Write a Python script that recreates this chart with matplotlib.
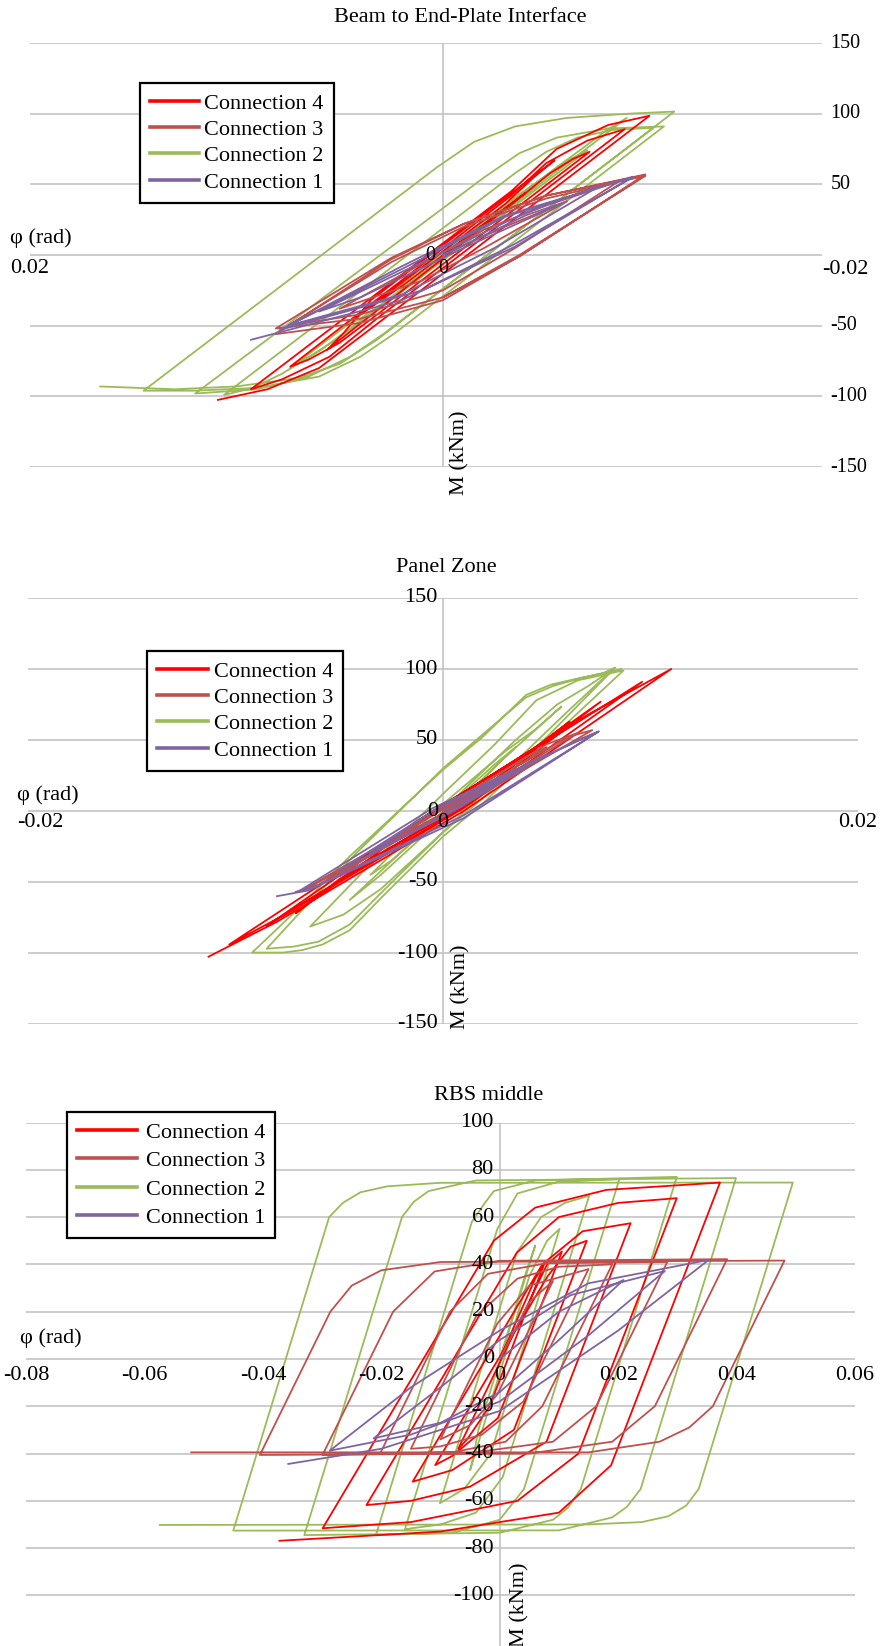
import matplotlib
matplotlib.use("Agg")
import matplotlib.pyplot as plt
from matplotlib.lines import Line2D

plt.rcParams["font.family"] = ["Liberation Serif", "DejaVu Serif"]

# ---- Beam to End-Plate Interface ----
beam_c4_phi = [0, -0.0030, -0.0040, 0.0018, 0.0033, 0.0042, -0.0030, -0.0044, -0.0054,
               0.0035, 0.0048, 0.0056, -0.0035, -0.0052, -0.0063, -0.0071,
               0.0030, 0.0050, 0.0065, 0.0074, -0.0033, -0.0050, -0.0070, -0.0088,
               0.0032, 0.0055, 0.0078, 0.0093, -0.0033, -0.0055, -0.0080, -0.0100,
               0.0033, 0.0060, 0.0085, 0.0109]
beam_c4_m = [0, 33, 44, -20, -35, -44, 36, 55, 67,
             -32, -55, -67, 38, 58, 68, 73,
             -40, -62, -74, -79, 42, 65, 81, 89,
             -45, -72, -88, -95, 45, 75, 92, 98.5,
             -50, -80, -95, -102.5]

beam_c3_phi = [0, -0.0030, -0.0060, -0.0020, 0.0010, 0.0050,
               0.0015, -0.0020, -0.0050, -0.0085, -0.0035, 0.0000, 0.0040, 0.0075,
               0.0025, -0.0010, -0.0050, -0.0098, -0.0037, 0.0000, 0.0040, 0.0081,
               0.0025, -0.0010, -0.0050, -0.0098, -0.0038, 0.0000, 0.0040, 0.0081,
               0.0025, -0.0010, -0.0050, -0.0098, -0.0037, 0.0000]
beam_c3_m = [0, 20, 38, 5, -18, -38,
             -10, 18, 35, 52, 5, -25, -42, -50,
             -5, 20, 40, 56, 0, -30, -45, -52,
             -2, 22, 42, 57, 0, -32, -48, -56,
             -3, 22, 42, 56.5, -1, -30]

beam_c2_phi = [0, -0.0030, -0.0045, 0.0025, 0.0040, 0.0047,
               -0.0034, -0.0052, -0.0062, -0.0070, 0.0037, 0.0055, 0.0066, 0.0074,
               -0.0055, -0.0068, -0.0079, -0.0089, 0.0045, 0.0060, 0.0078, 0.0092, 0.0106,
               -0.0035, -0.0050, -0.0065, -0.0082, -0.0102, 0.0028, 0.0045, 0.0065, 0.0090, 0.0120,
               -0.0020, -0.0037, -0.0055, -0.0080, -0.0107, 0.0023, 0.0040, 0.0060, 0.0090, 0.0120, 0.0145,
               0.0003, -0.0015, -0.0035, -0.0060, -0.0090, -0.0112,
               0.0032, 0.0050, 0.0070, 0.0100, 0.0130, 0.0166]
beam_c2_m = [0, 33, 48, -30, -45, -50,
             40, 58, 68, 74, -45, -63, -73, -80,
             62, 76, 88, 97, -52, -68, -84, -94, -99,
             58, 73, 83, 88.5, 90, -55, -72, -86, -95, -98,
             55, 72, 83, 89.5, 91, -55, -72, -86, -94, -96, -96,
             62, 80, 91, 97, 100, 101.5,
             -60, -77, -87, -93, -95, -93]

beam_c1_phi = [0, -0.0040, -0.0060, -0.0010, 0.0040, 0.0060,
               0.0010, -0.0040, -0.0076, -0.0025, 0.0020, 0.0075,
               0.0020, -0.0030, -0.0092, -0.0035, 0.0010, 0.0079,
               0.0020, -0.0030, -0.0092, -0.0035, 0.0020, 0.0093]
beam_c1_m = [0, 28, 38, 5, -30, -40,
             -5, 30, 49, 5, -28, -50,
             -8, 28, 55, 8, -25, -53,
             -10, 27, 55.4, 6, -32, -60]

# ---- Panel Zone ----
panel_c4_phi = [0, 0.0030, 0.0045, 0.0005, -0.0040, -0.0050,
                -0.0005, 0.0040, 0.0061, 0.0010, -0.0050, -0.0071,
                -0.0010, 0.0050, 0.0076, 0.0010, -0.0060, -0.0085,
                -0.0010, 0.0060, 0.0096, 0.0010, -0.0075, -0.0103,
                -0.0010, 0.0070, 0.0110, 0.0010, -0.0080, -0.0113]
panel_c4_m = [0, 30, 44, 0, -38, -46,
              0, 40, 63, 5, -48, -72,
              -6, 50, 77, 3, -58, -81,
              -5, 58, 91, 2, -72, -94,
              -5, 68, 100, 0, -78, -102.6]

panel_c3_phi = [0, 0.0030, 0.0035, 0.0005, -0.0030, -0.0035,
                -0.0005, 0.0040, 0.0050, 0.0005, -0.0045, -0.0050,
                -0.0005, 0.0050, 0.0065, 0.0005, -0.0060, -0.0068,
                -0.0005, 0.0060, 0.0072, 0.0005, -0.0065, -0.0071]
panel_c3_m = [0, 25, 30, 2, -25, -30,
              -2, 38, 45, 3, -40, -45,
              -3, 47, 55, 2, -52, -56,
              -3, 52, 57, 0, -54, -57]

panel_c2_phi = [0, 0.0025, 0.0035, 0.0005, -0.0025, -0.0035,
                0.0000, 0.0030, 0.0045, 0.0057, 0.0030, 0.0000, -0.0030, -0.0045,
                -0.0015, 0.0010, 0.0035, 0.0055, 0.0070, 0.0082,
                0.0060, 0.0030, 0.0000, -0.0030, -0.0048, -0.0064,
                -0.0040, 0.0000, 0.0025, 0.0045, 0.0065, 0.0087,
                0.0051, 0.0019, 0.0000, -0.0029, -0.0045, -0.0058, -0.0068, -0.0077, -0.0092,
                -0.0072, -0.0045, 0.0000, 0.0019, 0.0040, 0.0052, 0.0067, 0.0077, 0.0083,
                0.0052, 0.0020, 0.0000, -0.0028, -0.0045, -0.0060, -0.0072, -0.0085,
                -0.0068, -0.0042, 0.0000, 0.0020, 0.0040, 0.0053, 0.0065, 0.0086]
panel_c2_m = [0, 33, 45, 3, -35, -45,
              5, 42, 58, 73.5, 38, -5, -45, -62.7,
              -22, 15, 50, 75, 88, 100,
              70, 28, -15, -55, -73, -81.4,
              -45, 12, 47, 78, 92, 99,
              50, 5, -18, -60, -84, -94, -98, -99.7, -99.7,
              -72, -32, 29, 52, 81.7, 89, 94, 97, 101,
              55, 10, -15, -55, -80, -92, -95.5, -97,
              -70, -30, 30, 55, 80, 88, 93, 100]

panel_c1_phi = [0, 0.0035, 0.0005, -0.0035, -0.0005, 0.0050, 0.0005, -0.0050,
                -0.0005, 0.0065, 0.0075, 0.0010, -0.0060, -0.0070, -0.0005,
                0.0075, 0.0010, -0.0065, -0.0080]
panel_c1_m = [0, 28, 1, -30, 0, 40, 0, -42,
              0, 50, 56, -3, -52, -57, 2,
              56, -5, -56, -60]

# ---- RBS middle ----
rbs_c4_phi = [0, 0.0060, 0.0075, -0.0017, -0.0055, -0.0070,
              0.0080, 0.0105, -0.0003, -0.0080, -0.0109,
              0.0081, 0.0120, 0.0147, 0.0024, -0.0080, -0.0147,
              0.0072, 0.0140, 0.0221, 0.0079, -0.0050, -0.0150, -0.0225,
              0.0029, 0.0100, 0.0200, 0.0299, 0.0133, 0.0030, -0.0150, -0.0299,
              -0.0010, 0.0060, 0.0180, 0.0372, 0.0188, 0.0100, -0.0100, -0.0372]
rbs_c4_m = [0, 34, 40, -20, -34, -38,
            40, 45.4, -25, -41, -44.9,
            35, 47.5, 50, -30, -47, -51.9,
            40, 54, 57.4, -35, -54, -60, -61.8,
            45, 60, 66, 68, -40, -60, -69, -71.6,
            50, 64, 71.5, 74.6, -45, -65, -73, -76.9]

rbs_c3_phi = [0, 0.0050, 0.0090, -0.0004, -0.0050, -0.0100,
              -0.0004, 0.0050, 0.0150, 0.0040, -0.0030, -0.0100, -0.0150,
              -0.0040, 0.0030, 0.0100, 0.0190, 0.0072, 0.0010, -0.0080, -0.0202,
              -0.0084, -0.0020, 0.0080, 0.0283, 0.0163, 0.0090, -0.0050, -0.0299,
              -0.0180, -0.0110, 0.0000, 0.0384, 0.0262, 0.0190, 0.0050, -0.0405,
              -0.0286, -0.0250, -0.0200, -0.0100, 0.0481, 0.0360, 0.0320, 0.0270, 0.0150, -0.0521]
rbs_c3_m = [0, 24, 33, -15, -28, -34,
            15, 31, 38, -18, -32, -37, -38,
            18, 34, 39, 40, -20, -35, -39.5, -40,
            20, 36, 40.5, 41, -20, -35, -39.8, -40.5,
            20, 37, 41.5, 42.2, -20, -35, -40, -40.6,
            20, 31, 37.5, 41, 41.6, -20, -29, -35, -39.5, -39.5]

rbs_c2_phi = [0, 0.0045, 0.0060, -0.0036, -0.0045, -0.0050,
              0.0050, 0.0080, 0.0101, -0.0015, -0.0060, -0.0101,
              0.0029, 0.0070, 0.0110, 0.0151, 0.0005, -0.0040, -0.0100, -0.0160,
              -0.0004, 0.0030, 0.0100, 0.0202, 0.0041, 0.0000, -0.0080, -0.0209,
              -0.0047, -0.0025, -0.0010, 0.0060, 0.0299, 0.0137, 0.0115, 0.0090, 0.0000, -0.0330,
              -0.0165, -0.0145, -0.0120, -0.0040, 0.0399, 0.0238, 0.0215, 0.0190, 0.0100, -0.0450,
              -0.0288, -0.0265, -0.0235, -0.0190, -0.0100, 0.0495,
              0.0336, 0.0315, 0.0285, 0.0240, 0.0150, -0.0574]
rbs_c2_m = [0, 37, 48, -30, -42, -47,
            35, 50, 55, -40, -55, -61,
            45, 60, 66, 69, -50, -65, -70, -72,
            55, 70, 75, 76, -55, -68, -73.5, -74.5,
            58, 66, 71, 75.5, 77, -55, -63, -68, -73.5, -74.5,
            60, 66.5, 71, 75.5, 76.5, -55, -62.5, -67, -72.5, -72.6,
            60, 66, 70.5, 73, 74.5, 74.6,
            -55, -62, -66.5, -69, -70, -70.2]

rbs_c1_phi = [0, 0.0100, 0.0209, 0.0100, 0.0000, -0.0100, -0.0213,
              -0.0100, 0.0000, 0.0120, 0.0279, 0.0150, 0.0000, -0.0150, -0.0287,
              -0.0150, 0.0000, 0.0150, 0.0353, 0.0200, 0.0000, -0.0200, -0.0357]
rbs_c1_m = [0, 20, 33.4, 8, -14, -27, -33.6,
            -12, 8, 27, 37.2, 10, -18, -32, -38.8,
            -12, 12, 32, 41.9, 12, -22, -38, -44.4]

labels = ["Connection 4", "Connection 3", "Connection 2", "Connection 1"]
colors = ["#FF0000", "#C0504D", "#9BBB59", "#8064A2"]

grid_col = "#BFBFBF"
fs_big = 16      # titles, legend, x tick labels
fs_small = 14.5  # right-hand labels of the top chart

fig = plt.figure(figsize=(8.9, 16.46), dpi=100)
H = 1646.0
W = 890.0


def draw_panel(rect, xlim, ylim, grid_y, series, legend_xy, spacing, hlen, tpad):
    ax = fig.add_axes(rect)
    ax.set_xlim(*xlim)
    ax.set_ylim(*ylim)
    ax.set_axis_off()
    for g in grid_y:
        ax.axhline(g, color=grid_col, lw=1.1, zorder=0)
    ax.axvline(0, color=grid_col, lw=1.1, zorder=0)
    # green first, then red, brown, purple on top
    for idx in [2, 0, 1, 3]:
        phi, m = series[idx]
        ax.plot(phi, m, color=colors[idx], lw=1.3, zorder=2)
    handles = [Line2D([], [], color=c, lw=2.6) for c in colors]
    leg = ax.legend(handles, labels, loc="upper left", bbox_to_anchor=legend_xy,
                    bbox_transform=fig.transFigure, fancybox=False, framealpha=1,
                    edgecolor="black", fontsize=fs_big, handlelength=hlen,
                    handletextpad=tpad, labelspacing=spacing, borderpad=0.45,
                    borderaxespad=0)
    leg.get_frame().set_linewidth(1.6)
    leg.set_zorder(5)
    return ax


def txt(ax, x, y, s, size=fs_big, **kw):
    kw.setdefault("ha", "center")
    kw.setdefault("va", "center")
    ax.text(x, y, s, fontsize=size, clip_on=False, zorder=6, **kw)


# top panel (rotation axis runs from 0.02 on the left)
beam_yticks = [150, 100, 50, 0, -50, -100, -150]
ax1 = draw_panel([30 / W, 1 - 467 / H, 792 / W, 424 / H], (0.02, -0.018354), (-150, 150),
                 beam_yticks,
                 [(beam_c4_phi, beam_c4_m), (beam_c3_phi, beam_c3_m),
                  (beam_c2_phi, beam_c2_m), (beam_c1_phi, beam_c1_m)],
                 (140 / W, 1 - 83 / H), 0.26, 2.2, 0.25)
for v in beam_yticks:
    if v != 0:
        ax1.text(1.011, v, str(v), transform=ax1.get_yaxis_transform(), fontsize=fs_small,
                 ha="left", va="center", clip_on=False)
txt(ax1, 0.00063, 0, "0", size=fs_small)
txt(ax1, 0.02, -9.9, "0.02")
txt(ax1, 0, -9.2, "0", size=fs_small)
txt(ax1, -0.0195, -10.6, "-0.02")
ax1.text(-0.025, 12, "φ (rad)", transform=ax1.get_yaxis_transform(), fontsize=fs_big,
         ha="left", va="center", clip_on=False)
txt(ax1, -0.0008, -140, "M (kNm)", rotation=90)
fig.text(460 / W, 1 - 17 / H, "Beam to End-Plate Interface", fontsize=fs_big,
         ha="center", va="center")

# middle panel
panel_yticks = [150, 100, 50, 0, -50, -100, -150]
ax2 = draw_panel([28 / W, 1 - 1024 / H, 830 / W, 426 / H], (-0.02, 0.02), (-150, 150),
                 panel_yticks,
                 [(panel_c4_phi, panel_c4_m), (panel_c3_phi, panel_c3_m),
                  (panel_c2_phi, panel_c2_m), (panel_c1_phi, panel_c1_m)],
                 (147 / W, 1 - 651 / H), 0.26, 2.3, 0.25)
for v in panel_yticks:
    txt(ax2, -0.00025, v, str(v), ha="right")
txt(ax2, -0.0194, -8.4, "-0.02")
txt(ax2, 0, -8.4, "0")
txt(ax2, 0.02, -8.4, "0.02")
ax2.text(-0.013, 11.3, "φ (rad)", transform=ax2.get_yaxis_transform(), fontsize=fs_big,
         ha="left", va="center", clip_on=False)
txt(ax2, 0.00087, -123.8, "M (kNm)", rotation=90)
fig.text(446 / W, 1 - 568 / H, "Panel Zone", fontsize=fs_big, ha="center", va="center")

# bottom panel
rbs_yticks = [100, 80, 60, 40, 20, 0, -20, -40, -60, -80, -100]
rbs_xticks = [-0.08, -0.06, -0.04, -0.02, 0, 0.02, 0.04, 0.06]
rbs_xlabels = ["-0.08", "-0.06", "-0.04", "-0.02", "0", "0.02", "0.04", "0.06"]
ax3 = draw_panel([26 / W, 0, 829 / W, 523.5 / H], (-0.08, 0.06), (-121.4, 100),
                 rbs_yticks,
                 [(rbs_c4_phi, rbs_c4_m), (rbs_c3_phi, rbs_c3_m),
                  (rbs_c2_phi, rbs_c2_m), (rbs_c1_phi, rbs_c1_m)],
                 (67 / W, 1 - 1112 / H), 0.36, 2.7, 0.4)
for v in rbs_yticks:
    txt(ax3, -0.0010, v, str(v), ha="right")
for v, s in zip(rbs_xticks, rbs_xlabels):
    txt(ax3, v, -6.8, s)
ax3.text(-0.007, 8.9, "φ (rad)", transform=ax3.get_yaxis_transform(), fontsize=fs_big,
         ha="left", va="center", clip_on=False)
txt(ax3, 0.0034, -104, "M (kNm)", rotation=90)
fig.text(489 / W, 1 - 1096 / H, "RBS middle", fontsize=fs_big, ha="center", va="center")

fig.savefig("out.png", dpi=100)
